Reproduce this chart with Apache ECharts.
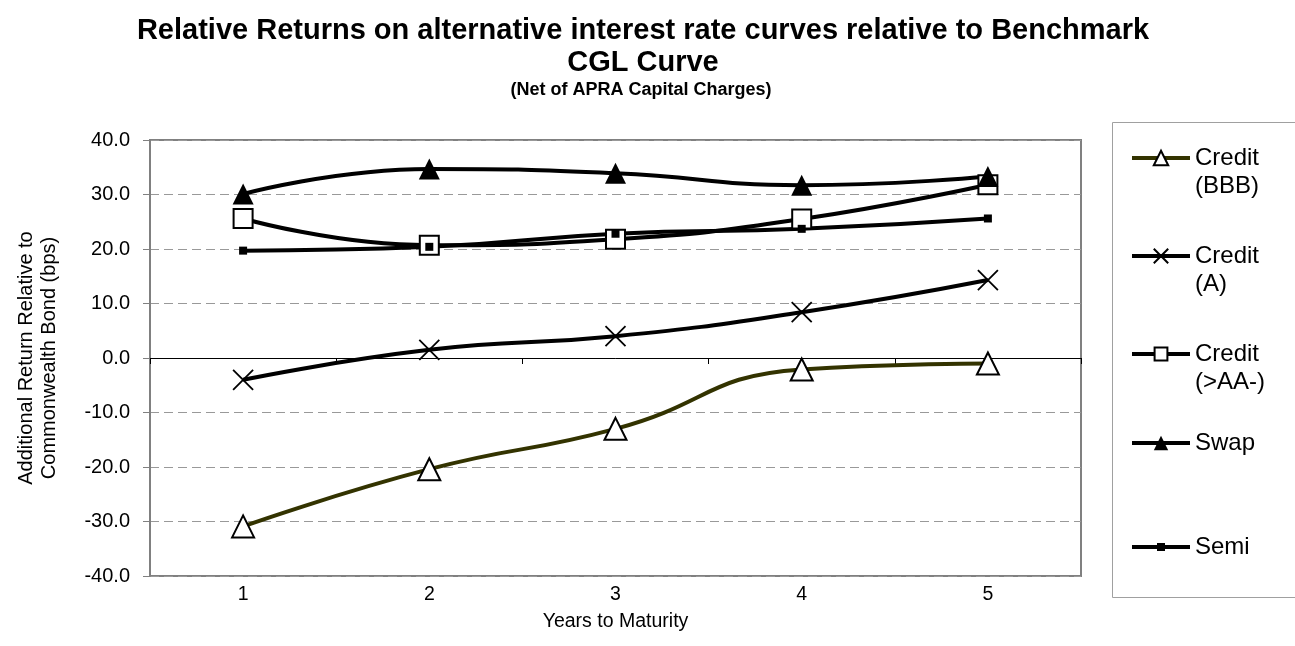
<!DOCTYPE html>
<html>
<head>
<meta charset="utf-8">
<script src="https://cdn.jsdelivr.net/npm/echarts@6/dist/echarts.min.js"></script>
<style>
  html, body { margin: 0; padding: 0; background: #fff; }
  #chart { width: 1295px; height: 646px; }
</style>
</head>
<body>
<div id="chart"></div>
<script>
// Years to maturity
const years = ['1', '2', '3', '4', '5'];

// Additional return relative to Commonwealth bond, in basis points
const creditBBB = [-30.9, -20.4, -13.0, -2.1, -1.0];
const creditA   = [-4.0, 1.5, 4.0, 8.4, 14.3];
const creditAA  = [25.6, 20.7, 21.8, 25.5, 31.8];
const swap      = [30.1, 34.7, 33.9, 31.7, 33.3];
const semi      = [19.7, 20.4, 22.8, 23.7, 25.6];

// Value axis ticks
const yMin = -40, yMax = 40, yStep = 10;

const FONT = 'Liberation Sans, Arial, sans-serif';
const crossPath = 'path://M0,0L10,10M10,0L0,10';

const chart = echarts.init(document.getElementById('chart'));

function lineSeries(name, data, symbol, size, fill, lineColor, borderWidth) {
  return {
    name: name,
    type: 'line',
    data: data,
    smooth: true,
    symbol: symbol,
    symbolSize: size,
    showAllSymbol: true,
    xAxisIndex: 0,
    yAxisIndex: 0,
    lineStyle: { color: lineColor, width: 4 },
    itemStyle: { color: fill, borderColor: '#000', borderWidth: borderWidth },
    emphasis: { disabled: true },
    z: 3
  };
}

// One legend block per series so each entry sits on its own row.
// Two-line names get a blank leading line so the key lines up with "Credit".
const L = 28;
function legendBlock(name, iconY, twoLine, iconH) {
  return {
    data: [name],
    orient: 'vertical',
    left: 1130,
    top: twoLine ? iconY - 1.5 * L : iconY - L / 2,
    padding: 0,
    itemWidth: 58,
    itemHeight: iconH,
    selectedMode: false,
    lineStyle: { width: 4 },
    formatter: n => twoLine ? '\n' + n.replace(' ', '\n') : n,
    textStyle: {
      fontFamily: FONT,
      fontSize: 24,
      color: '#000',
      lineHeight: L
    }
  };
}

chart.setOption({
  backgroundColor: '#fff',
  animation: false,
  title: [
    {
      text: 'Relative Returns on alternative interest rate curves relative to Benchmark\nCGL Curve',
      left: 638,
      top: 10,
      textAlign: 'center',
      textStyle: { fontFamily: FONT, fontSize: 29, fontWeight: 'bold', color: '#000', lineHeight: 32 }
    },
    {
      text: '(Net of APRA Capital Charges)',
      left: 636,
      top: 76,
      textAlign: 'center',
      textStyle: { fontFamily: FONT, fontSize: 18, fontWeight: 'bold', color: '#000', lineHeight: 18 }
    }
  ],
  legend: [
    legendBlock('Credit (BBB)', 158, true, 18),
    legendBlock('Credit (A)', 256, true, 18),
    legendBlock('Credit (>AA-)', 354, true, 16),
    legendBlock('Swap', 443, false, 18),
    legendBlock('Semi', 547, false, 10)
  ],
  graphic: [
    {
      type: 'rect',
      shape: { x: 1112.5, y: 122.5, width: 200, height: 475 },
      style: { fill: 'none', stroke: '#a0a0a0', lineWidth: 1 },
      silent: true
    }
  ],
  grid: {
    left: 150, right: 214, top: 140, bottom: 70,
    show: true,
    borderColor: '#808080',
    borderWidth: 2,
    backgroundColor: '#fff'
  },
  xAxis: [
    {
      type: 'category',
      data: years,
      position: 'bottom',
      boundaryGap: true,
      axisLine: { show: false, onZero: false },
      axisTick: { show: false },
      axisLabel: { fontFamily: FONT, fontSize: 19.5, color: '#000', margin: 9 },
      name: 'Years to Maturity',
      nameLocation: 'middle',
      nameGap: 36,
      nameTextStyle: { fontFamily: FONT, fontSize: 19.5, color: '#000' }
    },
    {
      // zero line with category boundary ticks
      type: 'category',
      data: years,
      position: 'top',
      boundaryGap: true,
      axisLine: { show: true, onZero: true, onZeroAxisIndex: 0, lineStyle: { color: '#000', width: 1 } },
      axisTick: { show: true, inside: true, length: 6, lineStyle: { color: '#000', width: 1 } },
      axisLabel: { show: false },
      splitLine: { show: false }
    }
  ],
  yAxis: {
    type: 'value',
    min: yMin,
    max: yMax,
    interval: yStep,
    axisLine: { show: true, onZero: false, lineStyle: { color: '#808080', width: 2 } },
    axisTick: { show: true, length: 7, lineStyle: { color: '#808080' } },
    axisLabel: {
      fontFamily: FONT, fontSize: 20, color: '#000', margin: 20,
      formatter: v => v.toFixed(1)
    },
    splitLine: { show: true, lineStyle: { color: '#999', type: [9, 5], width: 1 } },
    name: 'Additional Return Relative to\nCommonwealth Bond (bps)',
    nameLocation: 'middle',
    nameGap: 89,
    nameTextStyle: { fontFamily: FONT, fontSize: 20, color: '#000', lineHeight: 23 }
  },
  series: [
    lineSeries('Credit (BBB)', creditBBB, 'triangle', 22, '#fff', '#333300', 2),
    lineSeries('Credit (A)', creditA, crossPath, 20, '#000', '#000', 1.8),
    lineSeries('Credit (>AA-)', creditAA, 'rect', 19, '#fff', '#000', 2),
    lineSeries('Swap', swap, 'triangle', 21, '#000', '#000', 0),
    lineSeries('Semi', semi, 'rect', 8, '#000', '#000', 0)
  ]
});
</script>
</body>
</html>
